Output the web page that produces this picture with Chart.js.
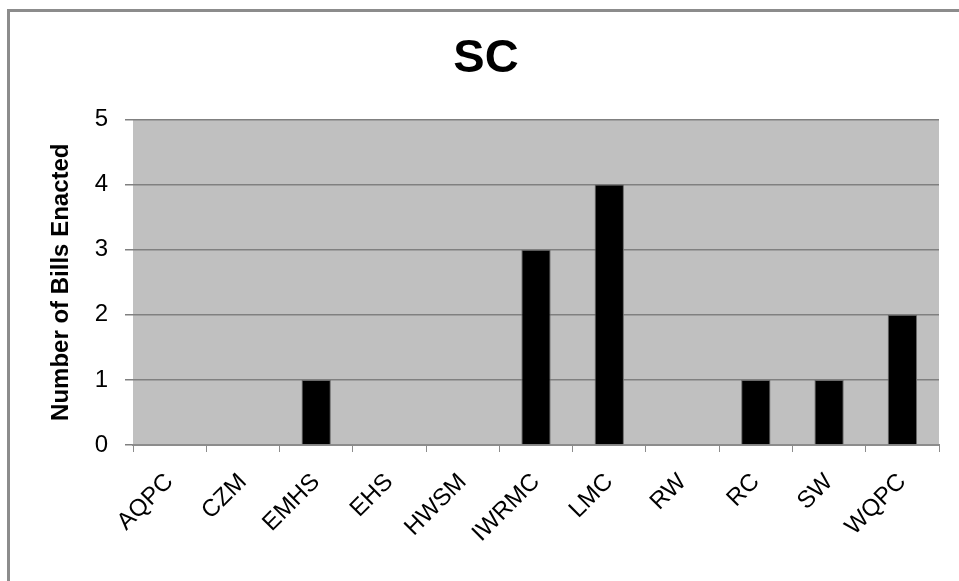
<!DOCTYPE html>
<html lang="en">
  <head>
    <meta charset="UTF-8" />
    <title>SC</title>
    <script src="https://cdn.jsdelivr.net/npm/chart.js"></script>
    <style>
      html, body { margin: 0; padding: 0; background: #fff; }
      #wrap { position: relative; width: 959px; height: 581px; overflow: hidden; }
      /* marco gris del gráfico original */
      #wrap::before {
        content: "";
        position: absolute;
        left: 7px;
        top: 9px;
        width: 1000px;
        height: 700px;
        border-left: 3px solid #8c8c8c;
        border-top: 3px solid #8c8c8c;
      }
      canvas { position: absolute; left: 0; top: 0; }
    </style>
  </head>
  <body>
    <div id="wrap">
      <canvas id="grafica" width="959" height="581"></canvas>
    </div>
    <script>
      const categories = ["AQPC", "CZM", "EMHS", "EHS", "HWSM", "IWRMC", "LMC", "RW", "RC", "SW", "WQPC"];
      const billsEnacted = [0, 0, 1, 0, 0, 3, 4, 0, 1, 1, 2];
      const yTicks = [0, 1, 2, 3, 4, 5];

      const FONT = "Arial, 'Liberation Sans', sans-serif";

      // fondo gris del área de trazado
      const plotBackground = {
        id: "plotBackground",
        beforeDraw(chart) {
          const { ctx, chartArea } = chart;
          ctx.save();
          ctx.fillStyle = "#c0c0c0";
          ctx.fillRect(chartArea.left, chartArea.top, chartArea.width, chartArea.height);
          ctx.restore();
        },
      };

      const ctx = document.getElementById("grafica").getContext("2d");
      new Chart(ctx, {
        type: "bar",
        data: {
          labels: categories,
          datasets: [
            {
              data: billsEnacted,
              backgroundColor: "#000000",
              borderColor: "#6a6a6a",
              borderWidth: 1,
              categoryPercentage: 1,
              barPercentage: 0.4,
            },
          ],
        },
        options: {
          responsive: false,
          animation: false,
          devicePixelRatio: 1,
          layout: { padding: { left: 33, right: 20, top: 0, bottom: 0 } },
          scales: {
            x: {
              grid: {
                display: true,
                drawOnChartArea: false,
                drawTicks: true,
                tickLength: 7,
                color: "#8c8c8c",
                offset: true,
              },
              border: { display: true, color: "#8c8c8c", width: 2 },
              ticks: {
                color: "#000",
                font: { family: FONT, size: 24 },
                minRotation: 45,
                maxRotation: 45,
                padding: 16,
              },
              afterFit(scale) {
                scale.height = 136;
              },
            },
            y: {
              min: 0,
              max: 5,
              afterBuildTicks(scale) {
                scale.ticks = yTicks.map((v) => ({ value: v }));
              },
              grid: {
                color: "#808080",
                lineWidth: 1.5,
                tickLength: 8,
                drawTicks: true,
              },
              border: { display: false },
              ticks: {
                color: "#000",
                font: { family: FONT, size: 24 },
                padding: 17,
              },
              title: {
                display: true,
                text: "Number of Bills Enacted",
                color: "#000",
                font: { family: FONT, size: 24, weight: "bold" },
                padding: { top: 14, bottom: 0 },
              },
              afterFit(scale) {
                scale.width = 100;
              },
            },
          },
          plugins: {
            legend: { display: false },
            tooltip: { enabled: false },
            title: {
              display: true,
              text: "SC",
              color: "#000",
              font: { family: FONT, size: 47, weight: "bold" },
              padding: { top: 31, bottom: 32 },
            },
          },
        },
        plugins: [plotBackground],
      });
    </script>
  </body>
</html>
